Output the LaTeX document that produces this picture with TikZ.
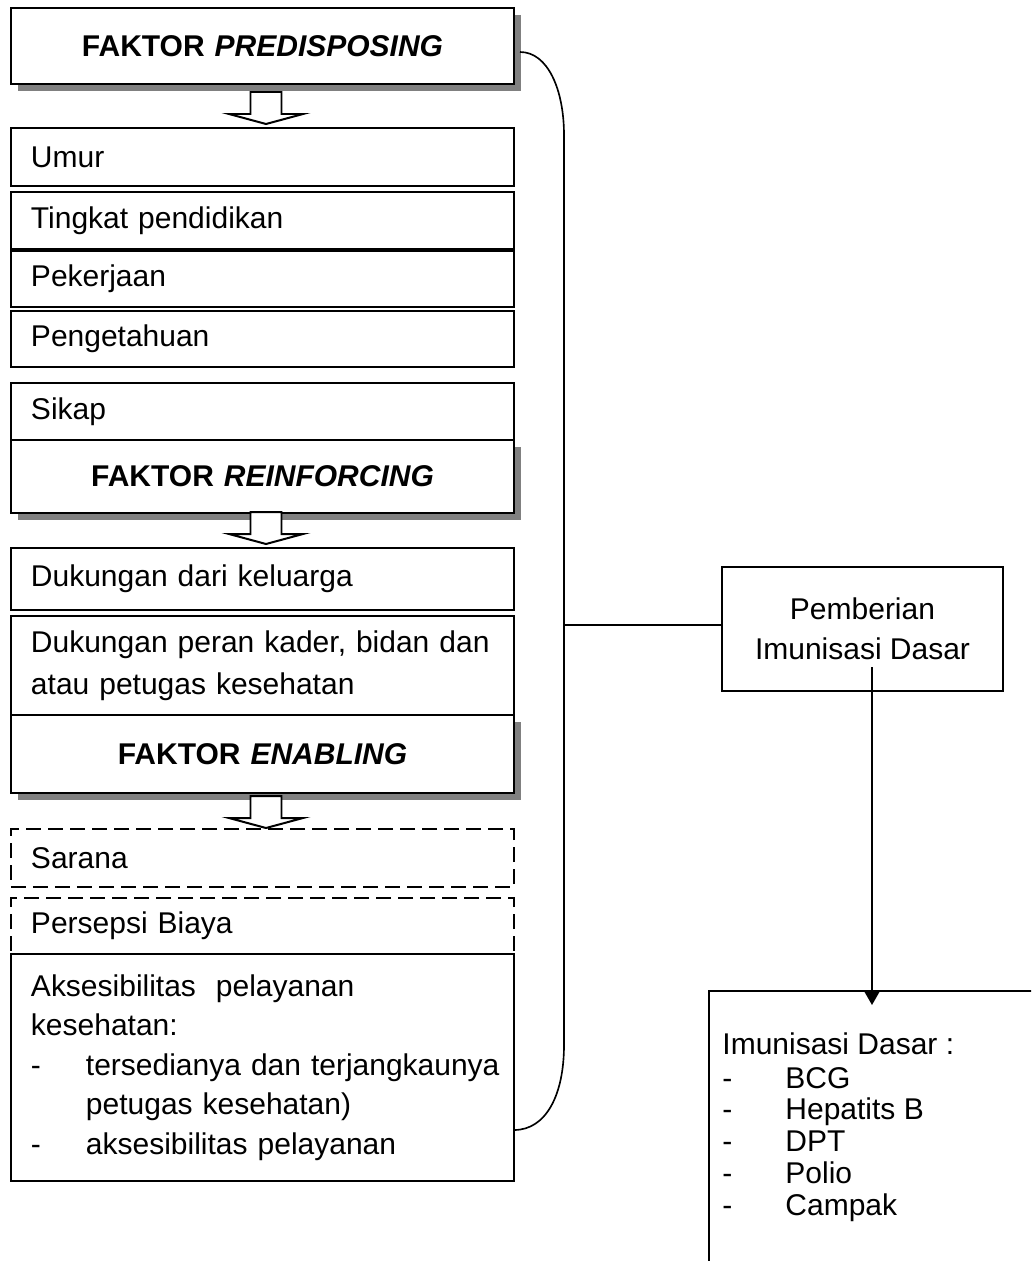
\documentclass[tikz,border=0pt]{standalone}
\usepackage{fontspec}
\setmainfont{Liberation Sans}
\usepackage{tikz}
\usetikzlibrary{arrows.meta,positioning,shadows}
\definecolor{shadowgray}{HTML}{808080}

\begin{document}
\begin{tikzpicture}[x=0.015cm, y=-0.015cm, font=\fontsize{12.8}{17.9}\selectfont,
    box/.style={draw, line width=0.85pt, fill=white, anchor=north west, text width=6.945cm, inner xsep=0.3cm, inner ysep=0pt, align=left},
    headbox/.style={box, align=center, font=\fontsize{12.8}{15}\selectfont\bfseries, drop shadow={shadow xshift=0.105cm, shadow yshift=-0.1cm, fill=shadowgray, opacity=1}},
    dashbox/.style={box, dash pattern=on 0.23cm off 0.1cm},
    hollow/.pic={\draw[line width=0.85pt, fill=white] (-15.5,0) -- (15.5,0) -- (15.5,22) -- (37,22) -- (0,32) -- (-37,22) -- (-15.5,22) -- cycle;},
    link/.style={line width=0.7pt}]
      \useasboundingbox (0,0) rectangle (1031,1261);
      \clip (0,0) rectangle (1031,1261);

      % predisposing
      \node[headbox, minimum height=1.14cm] (pred) at (10,7) {FAKTOR \textit{PREDISPOSING}};
      \pic at (266,92) {hollow};
      \node[box, minimum height=0.87cm] (umur) at (10,127) {Umur};
      \node[box, minimum height=0.855cm] (tingkat) at (10,191) {Tingkat pendidikan};
      \node[box, minimum height=0.84cm] (kerja) at (10,250) {Pekerjaan};
      \node[box, minimum height=0.84cm] (tahu) at (10,310) {Pengetahuan};
      \node[box, minimum height=0.855cm] (sikap) at (10,382) {Sikap};

      % reinforcing
      \node[headbox, minimum height=1.095cm] (reinf) at (10,439) {FAKTOR \textit{REINFORCING}};
      \pic at (266,512) {hollow};
      \node[box, minimum height=0.93cm] (kel) at (10,547) {Dukungan dari keluarga};
      \node[box, minimum height=1.485cm] (peran) at (10,615) {Dukungan peran kader, bidan dan\\atau petugas kesehatan};

      % enabling
      \node[headbox, minimum height=1.17cm] (enab) at (10,714) {FAKTOR \textit{ENABLING}};
      \pic at (266,796) {hollow};
      \node[dashbox, minimum height=0.87cm] (sarana) at (10,828) {Sarana};
      \node[dashbox, minimum height=0.84cm] (biaya) at (10,897) {Persepsi Biaya};
      \node[box, minimum height=3.405cm, font=\fontsize{12.8}{16.8}\selectfont] (akses) at (10,953)
        {Aksesibilitas\ \ pelayanan\\kesehatan:\\
         \makebox[0.825cm][l]{-}\mbox{tersedianya dan terjangkaunya}\\
         \hspace*{0.825cm}petugas kesehatan)\\
         \makebox[0.825cm][l]{-}aksesibilitas pelayanan\par\vspace*{0.16cm}};

      % outcome
      \node[draw, line width=0.85pt, anchor=north west, minimum width=4.215cm, minimum height=1.86cm, align=center,
        font=\fontsize{12.8}{17}\selectfont] (pemb) at (721,566) {Pemberian\\Imunisasi Dasar};
      \node[draw, line width=0.85pt, anchor=north west, minimum width=5.9cm, minimum height=5cm] (imun) at (708,990) {};
      \node[anchor=north west, align=left, inner sep=0pt, font=\fontsize{12.8}{13.6}\selectfont] (imunlist) at (722,1032)
        {Imunisasi Dasar :\\[0.03cm]
         \makebox[0.945cm][l]{-}BCG\\
         \makebox[0.945cm][l]{-}Hepatits B\\
         \makebox[0.945cm][l]{-}DPT\\
         \makebox[0.945cm][l]{-}Polio\\
         \makebox[0.945cm][l]{-}Campak};

      % bracket and connectors
      \coordinate (brtop) at (520,52);
      \coordinate (brbot) at (514,1130);
      \coordinate (brmid) at (564,625);
      \draw[link] (brtop) .. controls (548,52) and (564,90) .. (564,135) -- (564,1045)
        .. controls (564,1095) and (546,1130) .. (brbot);
      \draw[link] (brmid) -- (brmid -| pemb.west);
      \coordinate (pdown) at (872,667);
      \coordinate (ptip) at (872,1005);
      \draw[line width=0.85pt, -{Triangle[width=0.25cm,length=0.225cm]}] (pdown) -- (ptip);
    \end{tikzpicture}
\end{document}
